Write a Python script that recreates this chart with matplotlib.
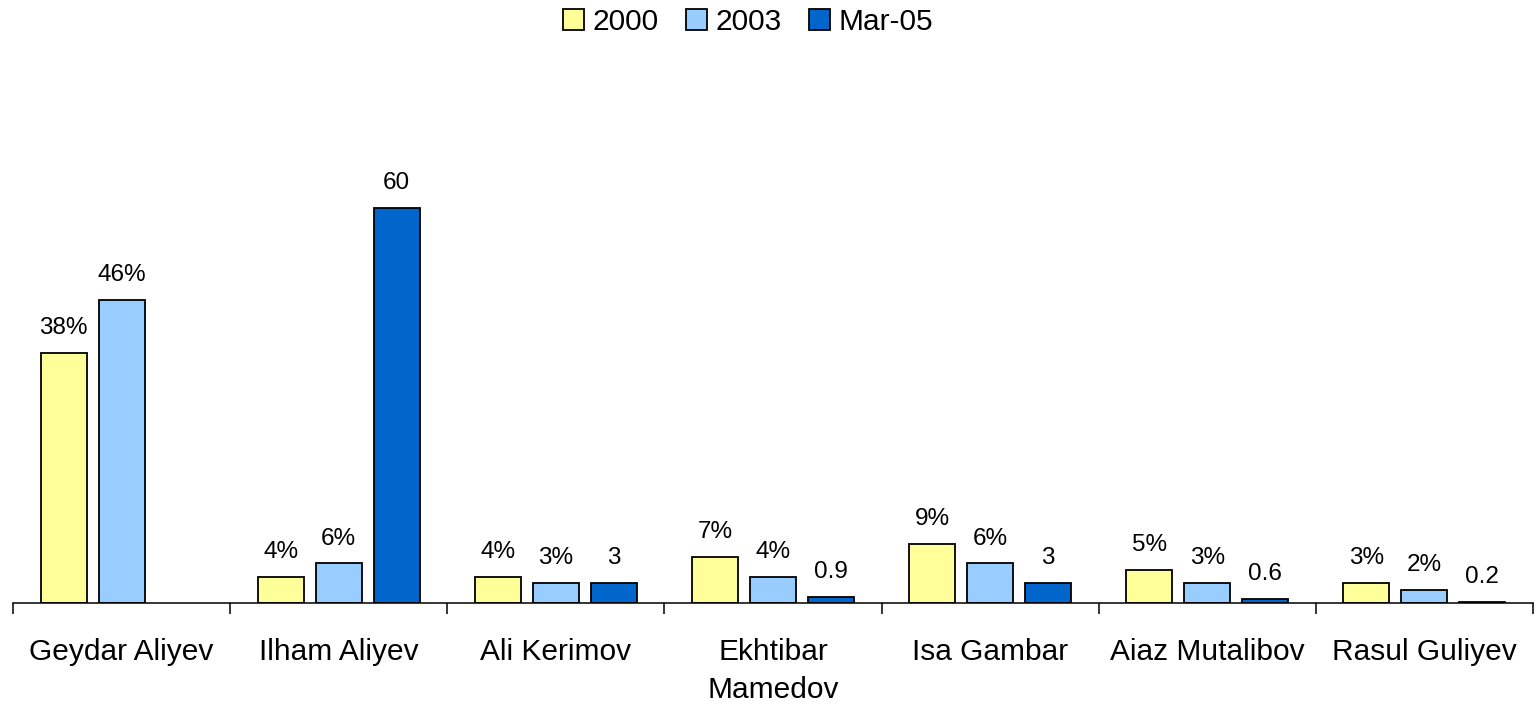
import numpy as np
import matplotlib.pyplot as plt

plt.rcParams['font.family'] = ['Liberation Sans', 'DejaVu Sans']

# Daten aus dem Bild
kandidaten = ['Geydar Aliyev', 'Ilham Aliyev', 'Ali Kerimov', 'Ekhtibar\nMamedov',
              'Isa Gambar', 'Aiaz Mutalibov', 'Rasul Guliyev']
werte_2000 = [38, 4, 4, 7, 9, 5, 3]
werte_2003 = [46, 6, 3, 4, 6, 3, 2]
werte_mar05 = [None, 60, 3, 0.9, 3, 0.6, 0.2]

serien = ['2000', '2003', 'Mar-05']
farben = ['#FFFF99', '#99CCFF', '#0066CC']

fig = plt.figure(figsize=(15.36, 7.04), dpi=100)
ax = fig.add_axes([13 / 1536, 101 / 704, 1520 / 1536, 560 / 704])

x = np.arange(len(kandidaten))
breite = 0.212
schritt = 0.267

for k, (name, werte, farbe) in enumerate(zip(serien, [werte_2000, werte_2003, werte_mar05], farben)):
    # fehlende Werte (None) werden gar nicht gezeichnet
    idx = [i for i, v in enumerate(werte) if v is not None]
    pos = x[idx] + (k - 1) * schritt
    hoehen = [werte[i] for i in idx]
    ax.bar(pos, hoehen, breite, color=farbe, edgecolor='black', linewidth=1.3, label=name)
    for p, v in zip(pos, hoehen):
        txt = f'{v:g}' if name == 'Mar-05' else f'{v:g}%'
        ax.annotate(txt, (p, v), xytext=(0, 10), textcoords='offset points',
                    ha='center', va='bottom', fontsize=17.5)

ax.set_xlim(-0.5, len(kandidaten) - 0.5)
ax.set_ylim(0, 85)

# Kategorien in der Mitte, Trennstriche an den Grenzen
ax.set_xticks(x)
ax.set_xticklabels(kandidaten, fontsize=21.5, linespacing=1.45)
ax.tick_params(axis='x', which='major', length=0, pad=25)
ax.set_xticks(np.arange(-0.5, len(kandidaten)), minor=True)
ax.tick_params(axis='x', which='minor', length=8, width=1.1, direction='out')

ax.set_yticks([])
for s in ['left', 'right', 'top']:
    ax.spines[s].set_visible(False)
ax.spines['bottom'].set_linewidth(1.1)

fig.legend(loc='center', bbox_to_anchor=(748 / 1536, 682 / 704), ncol=3, frameon=False,
           fontsize=21.5, handlelength=0.7, handleheight=0.7, handletextpad=0.3,
           columnspacing=0.9)

plt.savefig('out.png', dpi=100)
